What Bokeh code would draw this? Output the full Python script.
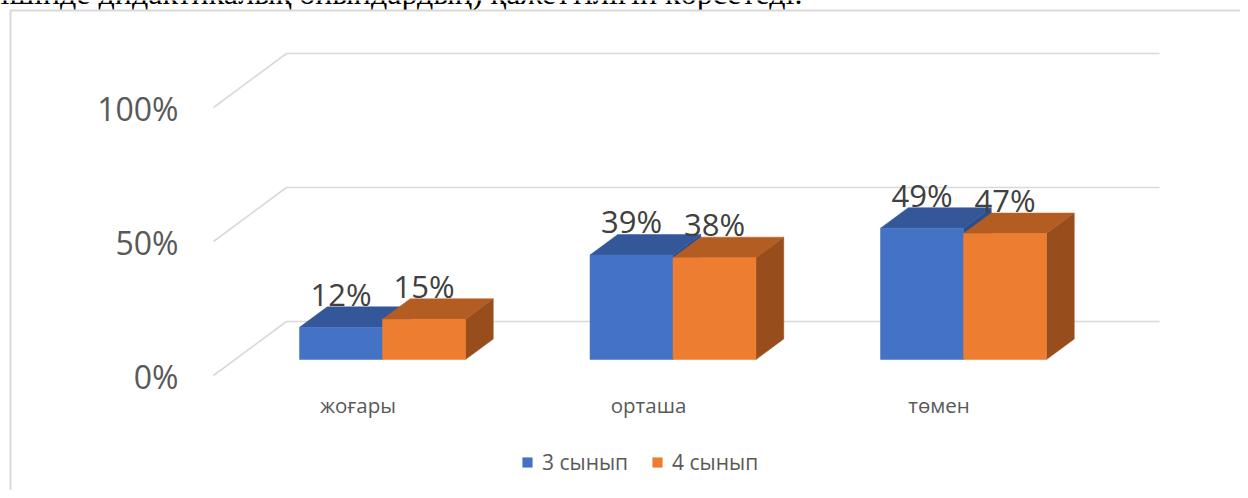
from bokeh.plotting import figure
from bokeh.models import Range1d, ColumnDataSource, Legend, LegendItem
from bokeh.core.properties import value
from bokeh.embed import file_html
from bokeh.resources import INLINE

# ---------------- data ----------------
categories = ["жоғары", "орташа", "төмен"]
series_names = ["3 сынып", "4 сынып"]
grade3 = [12, 39, 49]
grade4 = [15, 38, 47]
tick_values = [0, 50, 100]
tick_labels = ["0%", "50%", "100%"]
caption = "ішінде дидактикалық ойындардың) қажеттілігін көрсетеді."

# ---------------- geometry / style ----------------
W, H = 1240, 490
PX_X = 290.5          # pixels per category unit
PX_Y = 2.68           # pixels per percent
ORIGIN_X = 360.4      # canvas px of front-plane category 0
ORIGIN_Y = 375.0      # canvas px of front-plane 0 %


def px_x(px):
    return (px - ORIGIN_X) / PX_X


def px_y(px):
    return (ORIGIN_Y - px) / PX_Y


DX = 73 / PX_X        # full depth shift in x units
DY = 54 / PX_Y        # full depth shift in y units
D0 = 0.296            # depth of bar front face
DD = 0.38             # bar depth
BW = 83 / PX_X        # bar width
BASE_FIX = 0.42       # baseline correction (em)

FONT = "Open Sans"
BLUE = ("#4472C4", "#335798", "#2B4E8C")     # front, top, side
ORANGE = ("#ED7D31", "#B45D22", "#984D1C")
GRID = "#D9D9D9"

p = figure(width=W, height=H,
           x_range=Range1d(px_x(0), px_x(W)),
           y_range=Range1d(px_y(H), px_y(0)),
           x_axis_location=None, y_axis_location=None,
           output_backend="svg", toolbar_location=None, min_border=0)
p.grid.visible = False
p.outline_line_color = None
p.background_fill_color = "white"
p.border_fill_color = "white"

# cropped document line above the chart
p.text(x=[px_x(0)], y=[px_y(6 - BASE_FIX * 32)], text=[caption],
       text_align="left", text_baseline="alphabetic",
       text_font=value("Liberation Serif"), text_font_size="32px", text_color="#000000")

# chart area border (clipped on right and bottom)
p.line(x=[px_x(10), px_x(10), px_x(W + 5)], y=[px_y(H + 5), px_y(10), px_y(10)],
       line_color=GRID, line_width=2)

# gridlines: back wall + side wall diagonals
wall_left = px_x(213)
wall_right = px_x(1159 - 73)
xs, ys = [], []
for v in tick_values:
    xs.append([wall_left, wall_left + DX, wall_right + DX])
    ys.append([v, v + DY, v + DY])
p.multi_line(xs=xs, ys=ys, line_color=GRID, line_width=1.6)

# y tick labels
p.text(x=[px_x(178)] * len(tick_values),
       y=[v - (14 - BASE_FIX * 32) / PX_Y for v in tick_values],
       text=tick_labels, text_align="right", text_baseline="alphabetic",
       text_font=value(FONT), text_font_size="32px", text_color="#595959")

# 3D bars
fronts = []
for s, (vals, cols) in enumerate([(grade3, BLUE), (grade4, ORANGE)]):
    left = [i + D0 * DX - BW + s * BW for i in range(len(categories))]
    right = [l + BW for l in left]
    bottom = [D0 * DY] * len(vals)
    top = [v + D0 * DY for v in vals]
    # side face
    sx = [[r, r + DD * DX, r + DD * DX, r] for r in right]
    sy = [[b, b + DD * DY, t + DD * DY, t] for b, t in zip(bottom, top)]
    p.patches(xs=sx, ys=sy, fill_color=cols[2], line_color=cols[2], line_width=0.5)
    # top face
    tx = [[l, r, r + DD * DX, l + DD * DX] for l, r in zip(left, right)]
    ty = [[t, t, t + DD * DY, t + DD * DY] for t in top]
    p.patches(xs=tx, ys=ty, fill_color=cols[1], line_color=cols[1], line_width=0.5)
    # front face
    src = ColumnDataSource(dict(left=left, right=right, bottom=bottom, top=top))
    fr = p.quad(left="left", right="right", bottom="bottom", top="top", source=src,
                fill_color=cols[0], line_color=cols[0], line_width=0.5)
    fronts.append(fr)
    # data labels
    p.text(x=[(l + r) / 2 for l, r in zip(left, right)],
           y=[v + (D0 + DD) * DY + BASE_FIX * 31 / PX_Y for v in vals],
           text=[f"{v}%" for v in vals], text_align="center", text_baseline="alphabetic",
           text_font=value(FONT), text_font_size="31px", text_color="#404040")

# category labels
p.text(x=[i - 0.01 for i in range(len(categories))],
       y=[(-38 + BASE_FIX * 20.5) / PX_Y] * len(categories), text=categories,
       text_align="center", text_baseline="alphabetic",
       text_font=value(FONT), text_font_size="20.5px", text_color="#595959")

legend = Legend(items=[LegendItem(label=n, renderers=[r]) for n, r in zip(series_names, fronts)],
                orientation="horizontal", location=(521, 14),
                padding=0, margin=0, spacing=23, label_standoff=9,
                glyph_width=12, glyph_height=12,
                border_line_color=None, background_fill_alpha=0,
                label_text_font=FONT, label_text_font_size="21px",
                label_text_color="#595959")
p.add_layout(legend)

open("out.html", "w").write(file_html(p, INLINE))
